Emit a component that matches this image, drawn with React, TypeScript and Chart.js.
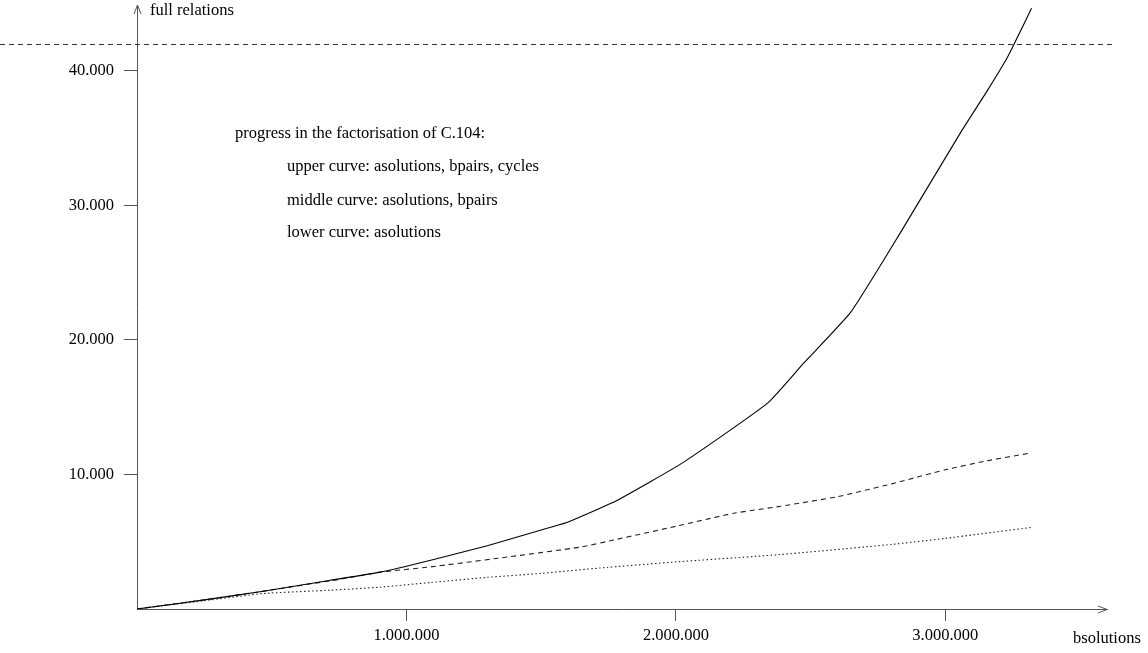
import React, { useEffect, useRef } from "react";
import { Chart, registerables } from "chart.js";

Chart.register(...registerables);

// ---- data ----
const upperX = [0, 250000, 469000, 718000, 903000, 1090000, 1300000, 1535000, 1598000, 1783000, 2029000, 2340000, 2474000, 2649000, 2834000, 3057000, 3157000, 3231000, 3320000];
const upperY = [0, 680, 1320, 2140, 2740, 3630, 4700, 6080, 6450, 8090, 10920, 15300, 18270, 22070, 28000, 35430, 38570, 41030, 44650];

const middleX = [0, 250000, 500000, 750000, 903000, 1090000, 1350000, 1646000, 1783000, 2000000, 2215000, 2389000, 2600000, 2800000, 3000000, 3150000, 3317000];
const middleY = [0, 680, 1420, 2200, 2740, 3130, 3800, 4600, 5190, 6150, 7120, 7640, 8350, 9300, 10350, 11000, 11600];

const lowerX = [0, 250000, 469000, 718000, 903000, 1090000, 1300000, 1500000, 1720000, 2000000, 2389000, 2800000, 3000000, 3317000];
const lowerY = [0, 620, 1150, 1400, 1620, 1970, 2350, 2650, 3050, 3500, 4050, 4800, 5250, 6060];

const xTicks = [1000000, 2000000, 3000000];
const yTicks = [10000, 20000, 30000, 40000];
const xTickLabels = ["1.000.000", "2.000.000", "3.000.000"];
const yTickLabels = ["10.000", "20.000", "30.000", "40.000"];

const targetLevel = 42000;

const xTitle = "bsolutions";
const yTitle = "full relations";
const noteLines = [
  "progress in the factorisation of C.104:",
  "upper curve: asolutions, bpairs, cycles",
  "middle curve: asolutions, bpairs",
  "lower curve: asolutions",
];

const FONT = "Liberation Serif";
const FS = 16.5;

function pts(xs: number[], ys: number[]) {
  return xs.map((x, i) => ({ x, y: ys[i] }));
}

const overlayPlugin = {
  id: "overlay",
  afterDraw(chart: any) {
    const ctx = chart.ctx as CanvasRenderingContext2D;
    const ys = chart.scales.y;
    const a = chart.chartArea;
    ctx.save();
    // dashed target line
    const yl = ys.getPixelForValue(targetLevel);
    ctx.strokeStyle = "#333";
    ctx.lineWidth = 1;
    ctx.setLineDash([5, 4]);
    ctx.beginPath();
    ctx.moveTo(0, Math.round(yl) + 0.5);
    ctx.lineTo(1114, Math.round(yl) + 0.5);
    ctx.stroke();
    ctx.setLineDash([]);
    // arrow heads
    ctx.strokeStyle = "#555";
    ctx.lineWidth = 1;
    const ox = Math.round(a.left) + 0.5;
    const oy = Math.round(a.bottom) + 0.5;
    ctx.beginPath();
    ctx.moveTo(ox - 3.5, a.top + 9);
    ctx.lineTo(ox, a.top);
    ctx.lineTo(ox + 3.5, a.top + 9);
    ctx.stroke();
    ctx.beginPath();
    ctx.moveTo(a.right - 9, oy - 3.5);
    ctx.lineTo(a.right, oy);
    ctx.lineTo(a.right - 9, oy + 3.5);
    ctx.stroke();
    // texts
    ctx.fillStyle = "#000";
    ctx.font = `${FS}px "${FONT}"`;
    ctx.textBaseline = "alphabetic";
    ctx.textAlign = "left";
    ctx.fillText(yTitle, 150, 15);
    ctx.fillText(xTitle, 1073, 643);
    ctx.fillText(noteLines[0], 235, 138);
    ctx.fillText(noteLines[1], 287, 171);
    ctx.fillText(noteLines[2], 287, 205);
    ctx.fillText(noteLines[3], 287, 237);
    ctx.restore();
  },
};

export default function App() {
  const ref = useRef<HTMLCanvasElement>(null);
  useEffect(() => {
    if (!ref.current) return;
    const chart = new Chart(ref.current, {
      type: "line",
      data: {
        datasets: [
          {
            data: pts(upperX, upperY),
            borderColor: "#000",
            borderWidth: 1.1,
            pointRadius: 0,
            tension: 0.15,
          },
          {
            data: pts(middleX, middleY),
            borderColor: "#222",
            borderWidth: 1.1,
            borderDash: [5, 4],
            pointRadius: 0,
            tension: 0.15,
          },
          {
            data: pts(lowerX, lowerY),
            borderColor: "#222",
            borderWidth: 1.1,
            borderDash: [1.5, 2.5],
            pointRadius: 0,
            tension: 0.15,
          },
        ],
      },
      options: {
        responsive: false,
        animation: false,
        events: [],
        layout: { padding: { top: 5, right: 41, left: 0, bottom: 0 } },
        plugins: { legend: { display: false }, tooltip: { enabled: false } },
        scales: {
          x: {
            type: "linear",
            min: 0,
            max: 3600000,
            afterFit: (s: any) => { s.height = 44; s.paddingLeft = 0; s.paddingRight = 0; },
            afterBuildTicks: (s: any) => { s.ticks = xTicks.map((v) => ({ value: v })); },
            grid: { drawOnChartArea: false, drawTicks: true, tickLength: 12, color: "#555", tickWidth: 1 },
            border: { display: true, color: "#555", width: 1 },
            ticks: {
              padding: 5,
              color: "#000",
              font: { family: FONT, size: FS },
              maxRotation: 0,
              callback: (v: any) => { const i = xTicks.indexOf(Number(v)); return i >= 0 ? xTickLabels[i] : ""; },
            },
          },
          y: {
            type: "linear",
            min: 0,
            max: 44900,
            afterFit: (s: any) => { s.width = 137; s.paddingTop = 0; s.paddingBottom = 0; },
            afterBuildTicks: (s: any) => { s.ticks = yTicks.map((v) => ({ value: v })); },
            grid: { drawOnChartArea: false, drawTicks: true, tickLength: 13, color: "#555", tickWidth: 1 },
            border: { display: true, color: "#555", width: 1 },
            ticks: {
              padding: 10,
              color: "#000",
              font: { family: FONT, size: FS },
              callback: (v: any) => { const i = yTicks.indexOf(Number(v)); return i >= 0 ? yTickLabels[i] : ""; },
            },
          },
        },
      },
      plugins: [overlayPlugin],
    } as any);
    return () => chart.destroy();
  }, []);
  return (
    <div style={{ position: "fixed", left: 0, top: 0, width: 1148, height: 653, background: "#fff" }}>
      <canvas ref={ref} width={1148} height={653} style={{ width: 1148, height: 653 }} />
    </div>
  );
}
